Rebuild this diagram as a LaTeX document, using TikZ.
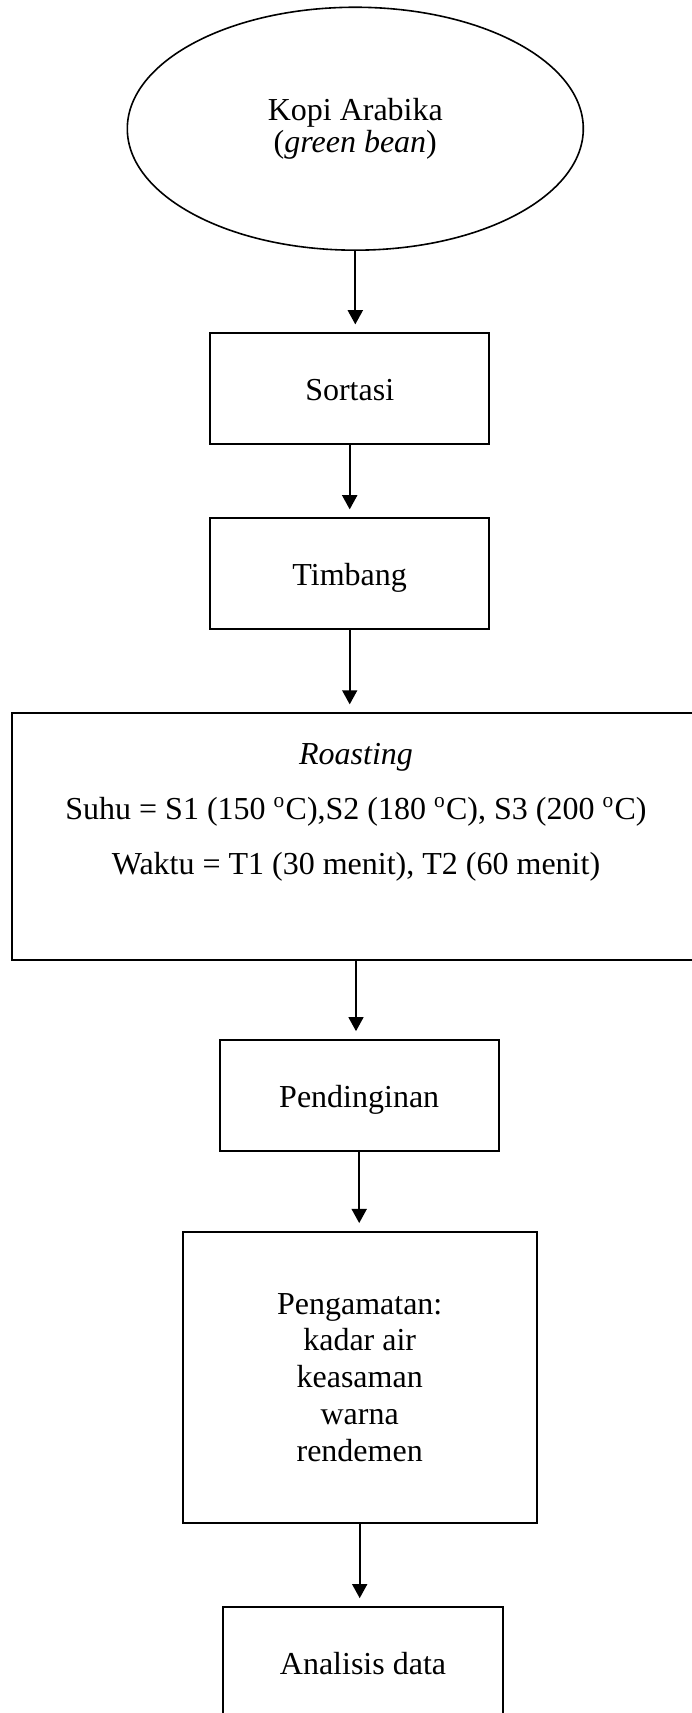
\documentclass[tikz,border=0pt,12pt]{standalone}
\usepackage{fontspec}
\setmainfont{Liberation Serif}
\usetikzlibrary{arrows.meta,shapes.geometric}

\tikzset{
    stepbox/.style={draw, line width=0.75pt, rectangle, inner sep=0pt,
        minimum width=104.7pt, minimum height=41.5pt, text height=10pt, text depth=1pt},
    bigbox/.style={draw, line width=0.75pt, rectangle, inner sep=0pt},
    flow/.style={-{Triangle[width=5.6pt,length=5.3pt]}, line width=0.75pt, shorten >=3pt},
}

\begin{document}
\begin{tikzpicture}[x=0.375pt, y=-0.375pt]
    \useasboundingbox (0,0) rectangle (691,1713);
    \node[draw, ellipse, line width=0.6pt, minimum width=171pt, minimum height=91.1pt,
        align=center, font=\fontsize{12}{10}\selectfont] (bean) at (355.3,128.7)
        {Kopi Arabika\\(\textit{green bean})};
    \node[stepbox] (sortasi) at (349.7,388.7) {Sortasi};
    \node[stepbox] (timbang) at (349.7,573.7) {Timbang};
    \node[bigbox, minimum width=258pt, minimum height=92.5pt] (roasting) at (356,836.7) {};
    \node[align=center, font=\fontsize{12}{20.7}\selectfont] (roastlbl) at (356,812)
        {\textit{Roasting}\\
         Suhu = S1 (150 \textsuperscript{o}C),S2 (180 \textsuperscript{o}C), S3 (200 \textsuperscript{o}C)\\
         Waktu = T1 (30 menit), T2 (60 menit)};
    \node[stepbox] (pendinginan) at (359.2,1095.5) {Pendinginan};
    \node[bigbox, minimum width=132.75pt, minimum height=109pt, align=center,
        font=\fontsize{12}{13.8}\selectfont] (pengamatan) at (359.7,1377.4)
        {Pengamatan:\\kadar air\\keasaman\\warna\\rendemen};
    \node[stepbox] (analisis) at (363,1662.5) {Analisis data};
    \foreach \a/\b in {bean/sortasi, sortasi/timbang, timbang/roasting,
        roasting/pendinginan, pendinginan/pengamatan, pengamatan/analisis}
        {\draw[flow] (\a.south) -- (\a.south |- \b.north);}
\end{tikzpicture}
\end{document}
